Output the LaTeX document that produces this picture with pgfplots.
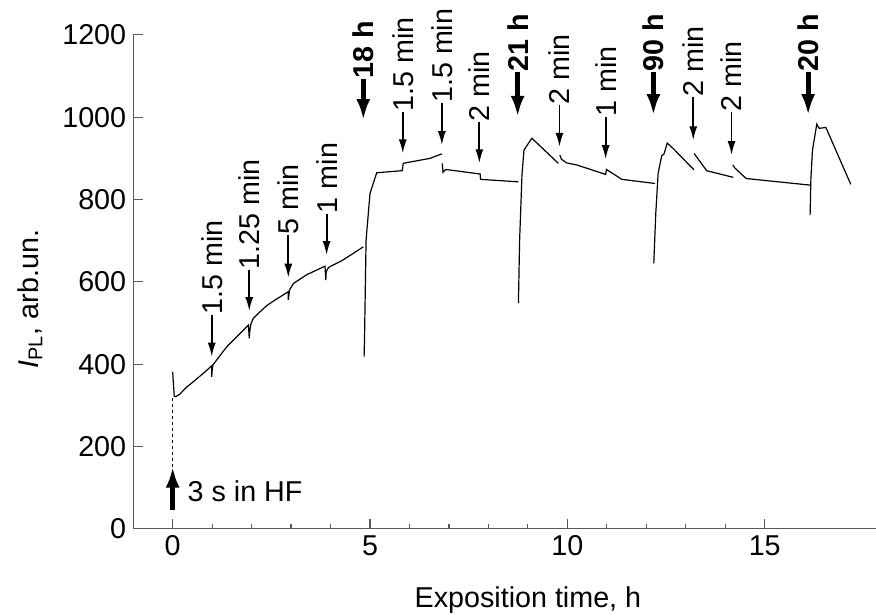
\documentclass[border=0pt]{standalone}
\usepackage{fontspec}
\setmainfont{Liberation Sans}
\usepackage{pgfplots}
\pgfplotsset{compat=1.18}
\usetikzlibrary{arrows.meta}

\begin{document}
\begin{tikzpicture}[font=\fontsize{14.4}{17}\selectfont,
  thinarr/.style={line width=0.9bp,-{Latex[length=7bp,width=4bp]}},
  thickarr/.style={line width=2.4bp,-{Latex[length=10.5bp,width=7bp]}},
  lab/.style={rotate=90,anchor=west,inner sep=0pt},
  blab/.style={lab,font=\fontsize{14.4}{17}\selectfont\bfseries}]
\begin{axis}[
  scale only axis, width=371.35bp, height=246.9bp,
  xmin=-1, xmax=17.82, ymin=0, ymax=1200,
  axis lines=left, axis line style={black!65,-,line width=0.6bp},
  tick align=inside, major tick length=5bp, minor tick length=2.5bp,
  tick style={black!65,line width=0.6bp},
  xtick={0,5,10,15}, minor x tick num=4,
  ytick={0,200,...,1200}, minor y tick num=0,
  /pgf/number format/assume math mode=true,
  /pgf/number format/1000 sep={},
  clip=false, no markers,
  xlabel={Exposition time, h},
  xlabel style={at={(axis description cs:0.5314,-0.1586)},anchor=base},
  ylabel={\textit{I}\textsubscript{PL}, arb.un.},
  ylabel style={at={(axis description cs:-0.139,0.465)},anchor=center},
  crv/.style={black,solid,line width=0.6bp}
]
% first run, 0 .. 4.8 h
\addplot[crv] coordinates {(0.00,381) (0.04,322) (0.08,321) (0.18,327) (0.35,344) (0.52,357) (0.78,378) (0.99,396) (0.99,369) (1.00,385) (1.02,398) (1.20,421) (1.37,442) (1.45,450) (1.71,475) (1.92,495) (1.94,463) (1.95,478) (1.98,497) (2.04,511) (2.20,526) (2.38,542) (2.63,558) (2.93,576) (2.93,556) (2.96,580) (3.06,596) (3.39,617) (3.86,638) (3.88,604) (3.89,625) (3.95,635) (4.07,641) (4.28,651) (4.83,685)};
% after 18 h
\addplot[crv] coordinates {(4.85,418) (4.86,458) (4.90,701) (5.00,815) (5.17,865) (5.80,870) (5.82,870) (5.84,888) (6.52,900) (6.82,911)};
\addplot[crv] coordinates {(6.83,888) (6.85,866) (6.92,873) (7.79,862) (7.80,849) (8.76,843)};
% after 21 h
\addplot[crv] coordinates {(8.76,548) (8.79,700) (8.85,860) (8.90,920) (9.10,949) (9.77,888)};
\addplot[crv] coordinates {(9.81,908) (9.85,898) (9.98,889) (10.24,884) (10.97,861) (10.99,873) (11.38,849) (12.22,839)};
% after 90 h
\addplot[crv] coordinates {(12.19,645) (12.24,766) (12.30,864) (12.39,906) (12.45,911) (12.53,937) (12.68,924) (13.21,872)};
\addplot[crv] coordinates {(13.21,912) (13.53,870) (14.20,854)};
\addplot[crv] coordinates {(14.19,884) (14.25,876) (14.53,851) (16.15,835)};
% after 20 h
\addplot[crv] coordinates {(16.15,762) (16.17,850) (16.21,920) (16.32,983) (16.38,973) (16.55,975) (17.18,837)};
% dashed start
\addplot[black,line width=0.6bp,dash pattern=on 1.5bp off 1.5bp] coordinates {(0,151) (0,321)};

\draw[thickarr] (axis cs:0,45) -- (axis cs:0,151);
\node[anchor=base west,inner sep=0pt] at (axis cs:0.37,66) {3 s in HF};

\draw[thinarr] (axis cs:0.99,520) -- (axis cs:0.99,418);
\node[lab] at (axis cs:0.99,520) {1.5 min};
\draw[thinarr] (axis cs:1.94,629) -- (axis cs:1.94,529);
\node[lab] at (axis cs:1.94,629) {1.25 min};
\draw[thinarr] (axis cs:2.93,714) -- (axis cs:2.93,610);
\node[lab] at (axis cs:2.93,714) {5 min};
\draw[thinarr] (axis cs:3.90,766) -- (axis cs:3.90,665);
\node[lab] at (axis cs:3.90,766) {1 min};
\draw[thickarr] (axis cs:4.83,1094) -- (axis cs:4.83,993);
\node[blab] at (axis cs:4.83,1094) {18 h};
\draw[thinarr] (axis cs:5.83,1013) -- (axis cs:5.83,912);
\node[lab] at (axis cs:5.83,1013) {1.5 min};
\draw[thinarr] (axis cs:6.82,1034) -- (axis cs:6.82,932);
\node[lab] at (axis cs:6.82,1034) {1.5 min};
\draw[thinarr] (axis cs:7.77,989) -- (axis cs:7.77,888);
\node[lab] at (axis cs:7.77,989) {2 min};
\draw[thickarr] (axis cs:8.74,1111) -- (axis cs:8.74,1001);
\node[blab] at (axis cs:8.74,1111) {21 h};
\draw[thinarr] (axis cs:9.80,1030) -- (axis cs:9.80,928);
\node[lab] at (axis cs:9.80,1030) {2 min};
\draw[thinarr] (axis cs:10.97,1001) -- (axis cs:10.97,898);
\node[lab] at (axis cs:10.97,1001) {1 min};
\draw[thickarr] (axis cs:12.18,1111) -- (axis cs:12.18,1005);
\node[blab] at (axis cs:12.18,1111) {90 h};
\draw[thinarr] (axis cs:13.19,1050) -- (axis cs:13.19,944);
\node[lab] at (axis cs:13.19,1050) {2 min};
\draw[thinarr] (axis cs:14.16,1013) -- (axis cs:14.16,908);
\node[lab] at (axis cs:14.16,1013) {2 min};
\draw[thickarr] (axis cs:16.10,1111) -- (axis cs:16.10,1005);
\node[blab] at (axis cs:16.10,1111) {20 h};

\coordinate (bbl) at (axis cs:-4.375,-207.3);
\coordinate (btr) at (axis cs:17.82,1284.8);
\end{axis}
\pgfresetboundingbox
\path[use as bounding box] (bbl) rectangle (btr);
\end{tikzpicture}
\end{document}
